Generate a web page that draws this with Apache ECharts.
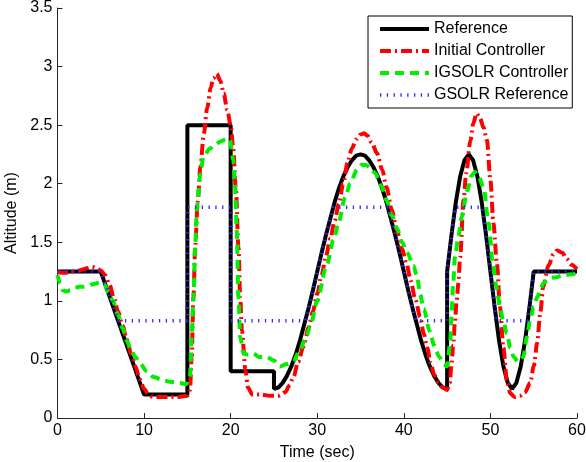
<!DOCTYPE html>
<html>
<head>
<meta charset="utf-8">
<script src="https://cdn.jsdelivr.net/npm/echarts@6/dist/echarts.min.js"></script>
<style>
html,body{margin:0;padding:0;background:#fff;}
#c{width:586px;height:462px;}
</style>
</head>
<body>
<div id="c"></div>
<script>
// ---- data ----
const xTicks = [0, 10, 20, 30, 40, 50, 60];
const yTicks = [0, 0.5, 1, 1.5, 2, 2.5, 3, 3.5];
const seriesNames = ['Reference', 'Initial Controller', 'IGSOLR Controller', 'GSOLR Reference'];

const refT = [0,5,10,15,15,20,20,25,25,25.5,26,26.5,27,27.5,28,28.5,29,29.5,30,30.5,31,31.5,32,32.5,33,33.5,34,34.5,35,35.5,36,36.5,37,37.5,38,38.5,39,39.5,40,40.5,41,41.5,42,42.5,43,43.5,44,44.5,45,45,45.5,46,46.5,47,47.5,48,48.5,49,49.5,50,50.5,51,51.5,52,52.5,53,53.5,54,54.5,55,60];
const refY = [1.25,1.25,0.2,0.2,2.5,2.5,0.4,0.4,0.25,0.26,0.3,0.36,0.44,0.54,0.66,0.8,0.94,1.09,1.25,1.41,1.56,1.7,1.84,1.96,2.06,2.14,2.2,2.24,2.25,2.24,2.2,2.14,2.06,1.96,1.84,1.7,1.56,1.41,1.25,1.09,0.94,0.8,0.66,0.54,0.44,0.36,0.3,0.26,0.25,1.25,1.56,1.84,2.06,2.2,2.25,2.2,2.06,1.84,1.56,1.25,0.94,0.66,0.44,0.3,0.25,0.3,0.44,0.66,0.94,1.25,1.25];

const initT = [0,0.5,1,1.5,2,2.5,3,3.5,4,4.5,5,5.5,6,6.5,7,7.5,8,8.5,9,9.5,10,10.5,11,12,13,14,15,15.3,15.5,15.7,15.9,16.2,16.5,16.9,17.3,17.7,18,18.4,18.8,19.2,19.6,20,20.3,20.6,20.9,21.1,21.3,21.7,22,22.5,23.5,24.5,25.5,26.3,26.8,27.25,27.8,28.4,29,29.5,30,30.5,31,31.5,32,32.5,33,33.5,34,34.5,35,35.4,35.8,36.3,36.9,37.5,38,38.6,39.2,39.8,40.3,40.8,41.3,41.9,42.3,42.7,43.1,43.5,44,44.5,45,45.3,45.5,45.7,45.9,46.1,46.3,46.5,46.9,47.2,47.7,48,48.4,48.8,49.2,49.6,50,50.35,50.75,51.1,51.5,51.9,52.3,52.8,53.4,54,54.6,55,55.4,55.75,56.1,56.7,57.3,57.7,58.3,58.8,59.3,60];
const initY = [1.25,1.24,1.24,1.25,1.25,1.26,1.27,1.28,1.29,1.28,1.26,1.22,1.14,1.03,0.91,0.79,0.67,0.55,0.44,0.33,0.25,0.2,0.18,0.18,0.18,0.18,0.19,0.24,0.52,1.03,1.46,1.85,2.14,2.43,2.65,2.82,2.9,2.94,2.88,2.77,2.63,2.5,2.3,1.95,1.46,1.03,0.75,0.41,0.26,0.2,0.2,0.19,0.19,0.22,0.28,0.35,0.48,0.61,0.77,0.91,1.06,1.22,1.38,1.53,1.68,1.83,2.0,2.18,2.3,2.38,2.42,2.43,2.41,2.35,2.26,2.12,1.97,1.78,1.6,1.44,1.32,1.17,1.02,0.86,0.72,0.6,0.47,0.37,0.3,0.26,0.24,0.3,0.45,0.62,0.82,1.0,1.15,1.37,1.86,2.09,2.37,2.51,2.6,2.56,2.48,2.37,2.03,1.66,1.32,0.95,0.6,0.32,0.21,0.18,0.19,0.22,0.3,0.44,0.64,0.89,1.12,1.3,1.4,1.43,1.41,1.36,1.31,1.27];

const igT = [0,0.3,0.6,1,1.5,2,2.5,3,3.5,4,4.5,5,5.4,5.9,6.4,7,7.5,8,8.5,9,9.5,10.3,11.1,12,13,14,14.9,15.3,15.5,15.7,15.9,16.1,16.5,16.85,17.6,18.2,18.8,19.5,19.9,20.3,20.5,20.7,20.9,21.1,21.5,22,22.6,23.3,24.2,25,25.7,26.5,27.2,28,28.6,29.2,30,31,31.9,32.5,33.2,33.8,34.6,35.1,35.6,36.1,36.7,37.4,38,38.6,39.2,39.8,40.4,41.1,41.5,41.9,42.3,43,43.5,44.1,44.6,45,45.35,45.5,45.7,45.9,46.3,46.7,47.3,47.85,48.2,48.6,49.2,49.8,50.3,50.7,51.1,51.5,51.9,52.3,52.7,53.2,53.8,54.2,54.6,55,55.4,55.75,56.1,56.6,57.1,57.5,58.5,59.6,60];
const igY = [1.22,1.15,1.09,1.08,1.09,1.11,1.12,1.12,1.13,1.14,1.15,1.16,1.14,1.07,1.0,0.88,0.77,0.66,0.58,0.52,0.47,0.4,0.35,0.33,0.31,0.3,0.29,0.35,0.69,1.03,1.46,1.8,2.08,2.23,2.3,2.33,2.36,2.38,2.38,2.2,1.98,1.6,1.03,0.69,0.55,0.54,0.55,0.52,0.52,0.49,0.44,0.46,0.48,0.58,0.67,0.78,1.0,1.28,1.52,1.68,1.88,2.0,2.12,2.16,2.16,2.14,2.09,1.98,1.86,1.73,1.62,1.5,1.41,1.3,1.22,1.05,0.93,0.74,0.62,0.52,0.46,0.44,0.64,0.86,1.15,1.37,1.55,1.72,1.94,2.07,2.1,2.07,1.97,1.66,1.3,1.12,0.95,0.82,0.72,0.6,0.52,0.48,0.52,0.69,0.84,0.95,1.03,1.09,1.15,1.18,1.2,1.2,1.22,1.23,1.24];

const gsT = [0,5,7.05,15,15,20,20,28.6,29,29.5,30,30.5,31,31.5,31.85,38.15,38.5,39,39.5,40,40.5,41,41.4,45,45,45.5,45.95,49.05,49.5,50,50.5,50.7,54.3,54.5,55,60];
const gsY = [1.25,1.25,0.83,0.83,1.8,1.8,0.83,0.83,0.94,1.09,1.25,1.41,1.56,1.7,1.8,1.8,1.7,1.56,1.41,1.25,1.09,0.94,0.83,0.83,1.25,1.56,1.8,1.8,1.56,1.25,0.94,0.83,0.83,0.94,1.25,1.25];

function zip(t, y) { return t.map((v, i) => [v, y[i]]); }

const FONT = "'Liberation Sans', Arial, sans-serif";
const AX = '#262626';
const styles = [
  {color: '#000000', width: 4, type: 'solid'},
  {color: '#ff0000', width: 4, type: [11, 4, 2, 4]},
  {color: '#00ee00', width: 4, type: [9, 6]},
  {color: '#2a2aff', width: 3.5, type: [1.3, 5.5]}
];
const datasets = [zip(refT, refY), zip(initT, initY), zip(igT, igY), zip(gsT, gsY)];

const chart = echarts.init(document.getElementById('c'), null, {renderer: 'canvas'});
chart.setOption({
  animation: false,
  backgroundColor: '#fff',
  grid: {left: 57.5, right: 9, top: 8, bottom: 44, containLabel: false, outerBoundsMode: 'none'},
  xAxis: {
    type: 'value', min: xTicks[0], max: xTicks[xTicks.length - 1], interval: 10,
    name: 'Time (sec)', nameLocation: 'middle', nameGap: 27,
    nameTextStyle: {fontFamily: FONT, fontSize: 16, color: '#000'},
    axisLine: {show: true, lineStyle: {color: AX, width: 1}},
    axisTick: {show: true, inside: true, length: 5, lineStyle: {color: AX}},
    axisLabel: {fontFamily: FONT, fontSize: 16, color: '#000', margin: 5},
    splitLine: {show: false}
  },
  yAxis: {
    type: 'value', min: yTicks[0], max: yTicks[yTicks.length - 1], interval: 0.5,
    name: 'Altitude (m)', nameLocation: 'middle', nameGap: 34,
    nameTextStyle: {fontFamily: FONT, fontSize: 16, color: '#000'},
    axisLine: {show: true, lineStyle: {color: AX, width: 1}},
    axisTick: {show: true, inside: true, length: 5, lineStyle: {color: AX}},
    axisLabel: {fontFamily: FONT, fontSize: 16, color: '#000', margin: 5},
    splitLine: {show: false}
  },
  legend: {
    orient: 'vertical', left: 368, top: 16,
    padding: [5, 4, 5, 10], itemGap: 6, itemWidth: 49, itemHeight: 14,
    borderColor: '#000', borderWidth: 1, backgroundColor: '#fff',
    textStyle: {fontFamily: FONT, fontSize: 16, color: '#000'},
    itemStyle: {opacity: 0, borderWidth: 0},
    data: seriesNames.map((n, i) => ({
      name: n,
      itemStyle: {opacity: 0, borderWidth: 0},
      lineStyle: {color: styles[i].color, width: styles[i].width, type: styles[i].type}
    }))
  },
  series: seriesNames.map((n, i) => ({
    name: n, type: 'line', symbol: 'none', showSymbol: false,
    data: datasets[i],
    smooth: (i === 1 || i === 2) ? 0.3 : false,
    smoothMonotone: 'x',
    lineStyle: {color: styles[i].color, width: styles[i].width, type: styles[i].type},
    itemStyle: {color: styles[i].color}
  }))
});
</script>
</body>
</html>
